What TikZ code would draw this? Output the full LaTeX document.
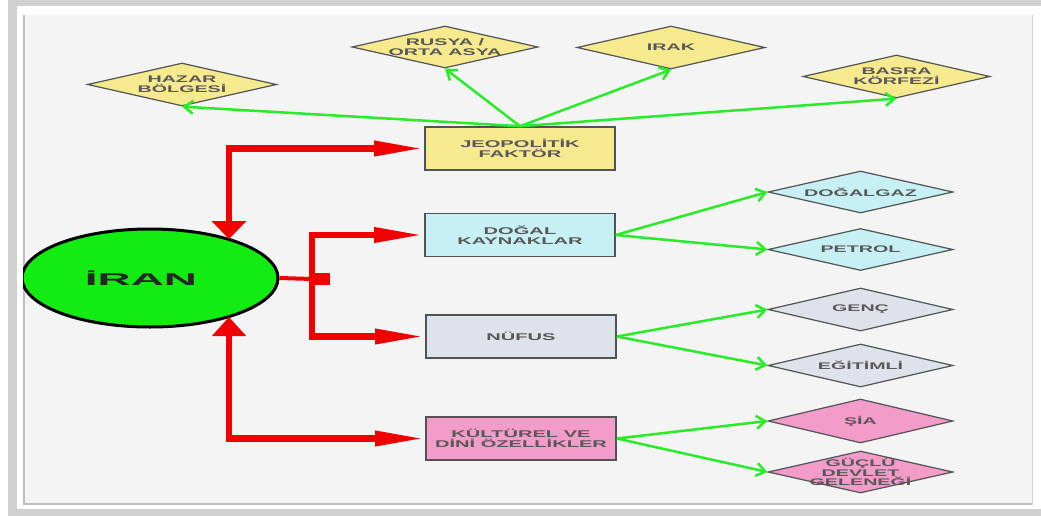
\documentclass[tikz,border=0pt]{standalone}
\usepackage{fontspec}
\usetikzlibrary{arrows.meta,shapes.geometric}
\newfontfamily\lblfont[FakeStretch=2.05]{Liberation Sans}
\newfontfamily\bigfont[FakeStretch=2.7]{Liberation Sans}
\definecolor{panelbg}{RGB}{244,244,244}
\definecolor{shadowgray}{RGB}{208,208,208}
\definecolor{ylw}{RGB}{246,233,142}
\definecolor{cyn}{RGB}{198,240,243}
\definecolor{gry}{RGB}{222,226,235}
\definecolor{pnk}{RGB}{243,155,201}
\definecolor{ellgreen}{RGB}{18,236,18}
\definecolor{lgreen}{RGB}{40,236,40}
\definecolor{rd}{RGB}{240,0,0}
\definecolor{txtgray}{RGB}{88,88,88}
\definecolor{bordergray}{RGB}{80,84,84}
\tikzset{
  boxnode/.style={rectangle, draw=bordergray, line width=1.6pt, minimum width=190pt, minimum height=43pt, inner sep=0pt, align=center, font=\lblfont\bfseries\fontsize{9.8}{10.5}\selectfont, text=txtgray},
  dianode/.style={diamond, draw=bordergray, line width=1.2pt, minimum width=187pt, minimum height=43pt, inner sep=0pt},
  dialbl/.style={align=center, font=\lblfont\bfseries\fontsize{9.6}{10}\selectfont, text=txtgray, inner sep=0pt},
  gline/.style={draw=lgreen, line width=2.5pt, -{Straight Barb[length=9pt,width=13pt]}},
  redline/.style={draw=rd, line width=6.5pt},
  longhead/.style={-{Triangle[length=50pt,width=14pt]}},
}
\begin{document}
\begin{tikzpicture}[x=1pt,y=-1pt]
\useasboundingbox (0,0) rectangle (1041,516);
\fill[white] (0,0) rectangle (1041,516);
% frame
\fill[shadowgray] (8,0) rectangle (1041,516);
\fill[white] (17,6) rectangle (1041,509);
\fill[panelbg] (22,15) rectangle (1032,505);
\draw[line width=1pt, draw=black!18] (1032,15) -- (1032,505);
\draw[line width=2pt, draw=black!25] (24,15) -- (24,504) -- (1032,504);
% ellipse
\begin{scope}
\clip (23,15) rectangle (1032,505);
\node[ellipse, draw=black, line width=3pt, fill=ellgreen, minimum width=256pt, minimum height=98pt, inner sep=0pt] (iran) at (150,278) {};
\end{scope}
\node[font=\bigfont\bfseries\fontsize{17}{17}\selectfont, text=black!85, inner sep=0pt] (iranT) at (141,278) {İRAN};
% boxes
\node[boxnode, fill=ylw] (jeo) at (520,148.5) {JEOPOLİTİK\\FAKTÖR};
\node[boxnode, fill=cyn] (dogal) at (520,235) {DOĞAL\\KAYNAKLAR};
\node[boxnode, fill=gry] (nufus) at (521,336.5) {NÜFUS};
\node[boxnode, fill=pnk] (kultur) at (521,438.5) {KÜLTÜREL VE\\DİNİ ÖZELLİKLER};
% top diamonds
\node[dianode, fill=ylw, minimum width=189pt] (hazar) at (182,84.5) {};
\node[dialbl] (hazarT) at (hazar) {HAZAR\\BÖLGESİ};
\node[dianode, fill=ylw, minimum width=186pt, minimum height=42pt] (rusya) at (445,47) {};
\node[dialbl] (rusyaT) at (rusya) {RUSYA /\\ORTA ASYA};
\node[dianode, fill=ylw, minimum width=188pt] (irak) at (671,47.5) {};
\node[dialbl] (irakT) at (irak) {IRAK};
\node[dianode, fill=ylw] (basra) at (896.5,76.5) {};
\node[dialbl] (basraT) at (basra) {BASRA\\KÖRFEZİ};
% right diamonds
\node[dianode, fill=cyn, minimum width=185pt, minimum height=42pt] (dgaz) at (860.5,192) {};
\node[dialbl] (dgazT) at (dgaz) {DOĞALGAZ};
\node[dianode, fill=cyn, minimum width=185pt, minimum height=42pt] (petrol) at (860.5,249.5) {};
\node[dialbl] (petrolT) at (petrol) {PETROL};
\node[dianode, fill=gry, minimum width=185pt, minimum height=43pt] (genc) at (860.5,309.5) {};
\node[dialbl] (gencT) at (genc) {GENÇ};
\node[dianode, fill=gry, minimum width=185pt, minimum height=43pt] (egit) at (860.5,365.5) {};
\node[dialbl] (egitT) at (egit) {EĞİTİMLİ};
\node[dianode, fill=pnk, minimum width=185pt, minimum height=44pt] (sia) at (860.5,421) {};
\node[dialbl] (siaT) at (sia) {ŞİA};
\node[dianode, fill=pnk, minimum width=185pt, minimum height=42pt] (guclu) at (860.5,472) {};
\node[dialbl, font=\lblfont\bfseries\fontsize{9.6}{9.2}\selectfont] (gucluT) at (guclu) {GÜÇLÜ\\DEVLET\\GELENEĞİ};
% green connectors
\draw[gline] (jeo.north) -- (hazar.south);
\draw[gline] (jeo.north) -- (rusya.south);
\draw[gline] (jeo.north) -- (irak.south);
\draw[gline] (jeo.north) -- (basra.south);
\draw[gline] (dogal.east) -- (dgaz.west);
\draw[gline] (dogal.east) -- (petrol.west);
\draw[gline] (nufus.east) -- (genc.west);
\draw[gline] (nufus.east) -- (egit.west);
\draw[gline] (kultur.east) -- (sia.west);
\draw[gline] (kultur.east) -- (guclu.west);
% red connectors
\coordinate (iranTop) at (229,239);
\coordinate (iranBot) at (229,317);
\coordinate (junc) at (312,279);
\draw[redline, arrows={Triangle[length=18pt,width=34pt]-Triangle[length=50pt,width=14pt]}] (iranTop) |- (jeo.west);
\draw[redline, arrows={Triangle[length=19pt,width=33pt]-Triangle[length=50pt,width=14pt]}] (iranBot) |- (kultur.west);
\draw[draw=rd, line width=4pt] (iran.east) -- (junc);
\fill[rd] (309,273) rectangle (330,285);
\draw[redline, longhead] (junc) |- (dogal.west);
\draw[redline, longhead] (junc) |- (nufus.west);
\end{tikzpicture}
\end{document}
